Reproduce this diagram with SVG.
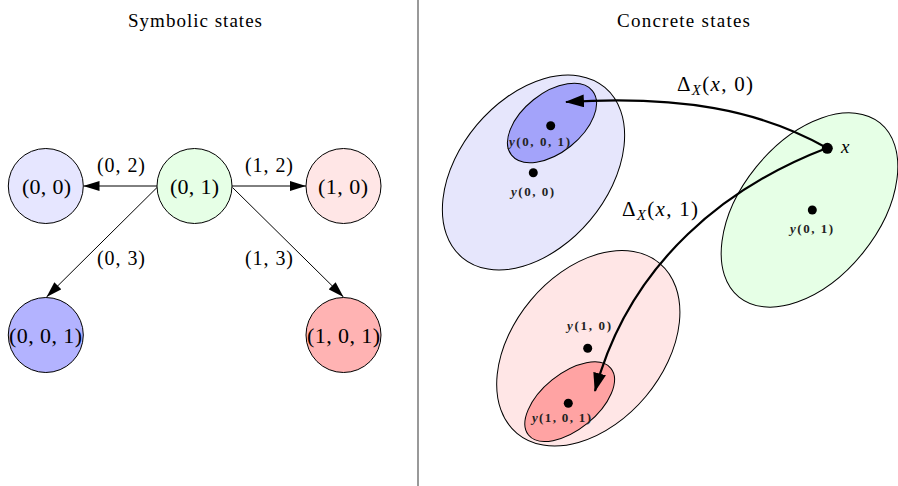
<svg xmlns="http://www.w3.org/2000/svg" width="898" height="486" viewBox="0 0 898 486">
<style>
.t{font-family:"Liberation Serif","DejaVu Serif",serif;fill:#000}
.node{stroke:#000;stroke-width:1}
.edge{stroke:#000;stroke-width:1;fill:none;marker-end:url(#ah)}
.big{stroke:#000;stroke-width:2.2;fill:none;marker-end:url(#ahb)}
.el{stroke:#000;stroke-width:1}
.nl{font-size:22px}
.lb{font-size:20px}
.sm{font-family:"Liberation Serif","DejaVu Serif",serif;font-size:13px;font-weight:bold;fill:#222}
</style>
<defs>
<marker id="ah" markerUnits="userSpaceOnUse" markerWidth="16" markerHeight="10" refX="16" refY="5" orient="auto">
<path d="M0,0 L16,5 L0,10 z" fill="#000"/>
</marker>
<marker id="ahb" markerUnits="userSpaceOnUse" markerWidth="19" markerHeight="13" refX="18" refY="6.5" orient="auto">
<path d="M0,0 L19,6.5 L0,13 z" fill="#000"/>
</marker>
</defs>
<rect width="898" height="486" fill="#fff"/>
<line x1="418" y1="0" x2="418" y2="486" stroke="#555" stroke-width="1.2"/>
<text class="t" x="128" y="26.5" font-size="19" textLength="134" lengthAdjust="spacing">Symbolic states</text>
<text class="t" x="617" y="26.5" font-size="19" textLength="133" lengthAdjust="spacing">Concrete states</text>

<g id="connectors">
<line class="edge" x1="157" y1="186" x2="83.5" y2="186"/>
<line class="edge" x1="232" y1="186" x2="306" y2="186"/>
<line class="edge" x1="157" y1="187.5" x2="46.5" y2="297"/>
<line class="edge" x1="232.5" y1="187.5" x2="343.5" y2="297"/>
<text class="t lb" x="97" y="172" textLength="48" lengthAdjust="spacing">(0, 2)</text>
<text class="t lb" x="245" y="172" textLength="48" lengthAdjust="spacing">(1, 2)</text>
<text class="t lb" x="97" y="265" textLength="48" lengthAdjust="spacing">(0, 3)</text>
<text class="t lb" x="245" y="265" textLength="48" lengthAdjust="spacing">(1, 3)</text>
</g>

<g id="n00">
<circle class="node" cx="45.8" cy="186" r="37.5" fill="#e6e6ff"/>
<text class="t nl" x="22" y="193.5" textLength="49" lengthAdjust="spacing">(0, 0)</text>
</g>
<g id="n01">
<circle class="node" cx="194.5" cy="186" r="37.5" fill="#e6ffe6"/>
<text class="t nl" x="170" y="193.5" textLength="49" lengthAdjust="spacing">(0, 1)</text>
</g>
<g id="n10">
<circle class="node" cx="343.5" cy="186" r="37.5" fill="#ffe6e6"/>
<text class="t nl" x="318" y="193.5" textLength="50" lengthAdjust="spacing">(1, 0)</text>
</g>
<g id="n001">
<circle class="node" cx="45.8" cy="335" r="37.5" fill="#b3b3ff"/>
<text class="t nl" x="9" y="342.5" textLength="73" lengthAdjust="spacing">(0, 0, 1)</text>
</g>
<g id="n101">
<circle class="node" cx="343.5" cy="335" r="37.5" fill="#ffb3b3"/>
<text class="t nl" x="307" y="342.5" textLength="73" lengthAdjust="spacing">(1, 0, 1)</text>
</g>

<g id="set00">
<ellipse class="el" cx="533.5" cy="172.5" rx="111" ry="74" transform="rotate(-50 533.5 172.5)" fill="#e6e6fc"/>
</g>
<g id="set10">
<ellipse class="el" cx="588.3" cy="348.3" rx="111" ry="75" transform="rotate(-50 588.3 348.3)" fill="#ffe6e6"/>
</g>
<g id="set01">
<ellipse class="el" cx="809.5" cy="210" rx="112" ry="68.5" transform="rotate(-51 809.5 210)" fill="#e6ffe6"/>
</g>
<g id="set001">
<ellipse class="el" cx="552" cy="123" rx="51.7" ry="29.7" transform="rotate(-38.5 552 123)" fill="#a3a3fa"/>
<circle cx="550.7" cy="125.7" r="4.5" fill="#000"/>
<text class="sm" x="509" y="146" textLength="61" lengthAdjust="spacing"><tspan font-style="italic">y</tspan>(0, 0, 1)</text>
</g>
<g id="set101">
<ellipse class="el" cx="569.7" cy="401.7" rx="53" ry="28" transform="rotate(-39 569.7 401.7)" fill="#ffa3a3"/>
<circle cx="568.3" cy="403.3" r="4.5" fill="#000"/>
<text class="sm" x="532" y="422" textLength="59" lengthAdjust="spacing"><tspan font-style="italic">y</tspan>(1, 0, 1)</text>
</g>
<g id="pt00">
<circle cx="533.3" cy="172.7" r="4.5" fill="#000"/>
<text class="sm" x="511" y="196" textLength="43" lengthAdjust="spacing"><tspan font-style="italic">y</tspan>(0, 0)</text>
</g>
<g id="pt01">
<circle cx="812.3" cy="210" r="4.5" fill="#000"/>
<text class="sm" x="790" y="233" textLength="43" lengthAdjust="spacing"><tspan font-style="italic">y</tspan>(0, 1)</text>
</g>
<g id="pt10">
<circle cx="587.7" cy="348.3" r="4.5" fill="#000"/>
<text class="sm" x="567" y="330" textLength="44" lengthAdjust="spacing"><tspan font-style="italic">y</tspan>(1, 0)</text>
</g>
<g id="ptx">
<circle cx="827.3" cy="148.3" r="5.5" fill="#000"/>
<text class="t" x="841" y="153" font-size="19" font-style="italic">x</text>
</g>

<g id="arrows">
<path class="big" d="M827,148 C760,110 680,95 566,102"/>
<path class="big" d="M827,148 C730,185 630,260 595,391"/>
<text class="t" x="677" y="91" font-size="21" textLength="76" lengthAdjust="spacing">Δ<tspan font-size="15" font-style="italic" dy="4">X</tspan><tspan dy="-4">(</tspan><tspan font-style="italic">x</tspan>, 0)</text>
<text class="t" x="622" y="216" font-size="21" textLength="76" lengthAdjust="spacing">Δ<tspan font-size="15" font-style="italic" dy="4">X</tspan><tspan dy="-4">(</tspan><tspan font-style="italic">x</tspan>, 1)</text>
</g>
</svg>
